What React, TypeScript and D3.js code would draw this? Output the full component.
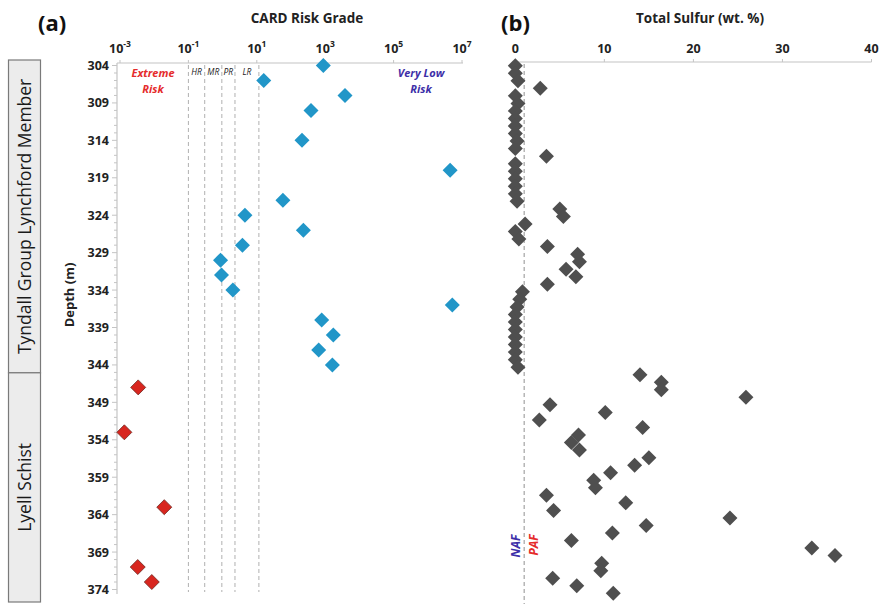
import * as d3 from "d3";
import { useEffect, useRef } from "react";

const WIDTH = 880;
const HEIGHT = 606;

// (a) CARD risk grade vs depth
const cardDepths = [
  304, 306, 308, 310, 314, 318, 322, 324, 326, 328, 330, 332, 334, 336, 338,
  340, 342, 344, 347, 353, 363, 371, 373,
];
const cardValues = [
  880, 16, 3800, 385, 210, 4.5e6, 58, 4.5, 230, 3.8, 0.87, 0.93, 2.0, 5.2e6,
  790, 1730, 645, 1620, 0.0034, 0.00134, 0.0197, 0.0033, 0.0085,
];
const riskBounds = [0.1, 0.3, 0.95, 2.3, 11.5];
const riskBandLabels = ["HR", "MR", "PR", "LR"];
const cardTickExps = [-3, -1, 1, 3, 5, 7];

// (b) total sulfur vs depth
const sulfurDepths = [
  304, 305, 306, 307, 308, 309, 310, 311, 312, 313, 314, 315, 316, 317, 318,
  319, 320, 321, 322, 323, 324, 325, 326, 327, 328, 329, 330, 331, 332, 333,
  334, 335, 336, 337, 338, 339, 340, 341, 342, 343, 344, 345, 346, 347, 348,
  349, 350, 351, 352, 353, 354, 355, 356, 357, 358, 359, 360, 361, 362, 363,
  364, 365, 366, 367, 368, 369, 370, 371, 372, 373, 374,
];
const sulfurValues = [
  0, 0, 0.3, 2.8, 0, 0.3, 0, 0, 0, 0, 0.2, 0, 3.5, 0, 0, 0, 0, 0, 0.2, 5.0,
  5.4, 1.1, 0, 0.4, 3.6, 7.0, 7.2, 5.7, 6.8, 3.6, 0.8, 0.5, 0.2, 0, 0, 0, 0,
  0, 0, 0, 0.3, 14.0, 16.4, 16.4, 25.9, 3.9, 10.1, 2.7, 14.3, 7.1, 6.3, 7.2,
  15.0, 13.4, 10.7, 8.8, 9.0, 3.5, 12.4, 4.3, 24.1, 14.7, 10.9, 6.3, 33.3,
  35.9, 9.7, 9.6, 4.2, 6.9, 11.0,
];
const sulfurTicks = [0, 10, 20, 30, 40];
const pafLimit = 1;

const depthTicks = [304, 309, 314, 319, 324, 329, 334, 339, 344, 349, 354, 359, 364, 369, 374];
const units = [
  { name: "Tyndall Group Lynchford Member", top: 304, bottom: 344.4 },
  { name: "Lyell Schist", top: 344.4, bottom: 374 },
];

const FONT = "'Open Sans', 'Liberation Sans', sans-serif";
const diamond = (r: number) => `M0,${-r}L${r},0L0,${r}L${-r},0Z`;

const App = () => {
  const svgRef = useRef<SVGSVGElement>(null);

  useEffect(() => {
    const svg = d3.select(svgRef.current);
    svg.selectAll("*").remove();
    svg.attr("font-family", FONT);

    // ---------- panel (a) ----------
    const x = d3.scaleLog().domain([1e-3, 1e7]).range([120, 462]);
    const y = d3.scaleLinear().domain([304, 374]).range([65.5, 589.5]);
    const axisX = 117;
    const topA = 63;

    // unit boxes on the far left
    const boxY = d3.scaleLinear().domain([304, 374]).range([60, 602]);
    units.forEach((u) => {
      const y0 = boxY(u.top);
      const y1 = boxY(u.bottom);
      svg.append("rect")
        .attr("x", 8.5).attr("y", y0).attr("width", 32).attr("height", y1 - y0)
        .attr("fill", "#ececec").attr("stroke", "#7a7a7a").attr("stroke-width", 1.2);
      svg.append("text")
        .attr("transform", `translate(31,${(y0 + y1) / 2}) rotate(-90)`)
        .attr("text-anchor", "middle")
        .attr("font-size", 17.5)
        .attr("fill", "#1a1a1a")
        .text(u.name);
    });

    // depth label
    svg.append("text")
      .attr("transform", `translate(74,295) rotate(-90)`)
      .attr("text-anchor", "middle")
      .attr("font-size", 13)
      .attr("font-weight", "bold")
      .attr("fill", "#222")
      .text("Depth (m)");

    // left y axis with 1 m minor ticks
    svg.append("line")
      .attr("x1", axisX).attr("x2", axisX).attr("y1", topA).attr("y2", 594)
      .attr("stroke", "#c4c4c4").attr("stroke-width", 1.2);
    d3.range(304, 375).forEach((d) => {
      svg.append("line")
        .attr("x1", axisX - (depthTicks.includes(d) ? 5 : 3)).attr("x2", axisX)
        .attr("y1", y(d)).attr("y2", y(d))
        .attr("stroke", "#c4c4c4");
    });
    svg.append("g")
      .selectAll("text")
      .data(depthTicks)
      .join("text")
      .attr("x", 109)
      .attr("y", (d) => y(d) + 4.5)
      .attr("text-anchor", "end")
      .attr("font-size", 12.5)
      .attr("font-weight", "bold")
      .attr("fill", "#222")
      .text((d) => d);

    // top log axis
    svg.append("line")
      .attr("x1", axisX).attr("x2", 463).attr("y1", topA).attr("y2", topA)
      .attr("stroke", "#c4c4c4").attr("stroke-width", 1.2);
    cardTickExps.forEach((e) => {
      const tx = x(Math.pow(10, e));
      svg.append("line")
        .attr("x1", tx).attr("x2", tx).attr("y1", topA - 3).attr("y2", topA)
        .attr("stroke", "#c4c4c4");
      const t = svg.append("text")
        .attr("x", tx)
        .attr("y", 53)
        .attr("text-anchor", "middle")
        .attr("font-size", 12.5)
        .attr("font-weight", "bold")
        .attr("fill", "#222");
      t.append("tspan").text("10");
      t.append("tspan").attr("dy", -6).attr("font-size", 8.5).text(String(e));
    });

    svg.append("text")
      .attr("x", 307).attr("y", 23)
      .attr("text-anchor", "middle")
      .attr("font-size", 13.5).attr("font-weight", "bold").attr("fill", "#222")
      .text("CARD Risk Grade");
    svg.append("text")
      .attr("x", 38).attr("y", 31)
      .attr("font-size", 22).attr("font-weight", "bold").attr("fill", "#111")
      .text("(a)");

    // risk class boundaries
    riskBounds.forEach((b) => {
      svg.append("line")
        .attr("x1", x(b)).attr("x2", x(b)).attr("y1", topA + 2).attr("y2", 592)
        .attr("stroke", "#b0b0b0").attr("stroke-dasharray", "4,3");
    });
    riskBandLabels.forEach((lab, i) => {
      svg.append("text")
        .attr("x", (x(riskBounds[i]) + x(riskBounds[i + 1])) / 2)
        .attr("y", 75)
        .attr("text-anchor", "middle")
        .attr("font-size", 8.5)
        .attr("font-style", "italic")
        .attr("fill", "#222")
        .text(lab);
    });
    [["Extreme", "Risk"]].forEach((lines) => {
      lines.forEach((l, i) => {
        svg.append("text")
          .attr("x", 153).attr("y", 77 + i * 16)
          .attr("text-anchor", "middle")
          .attr("font-size", 11).attr("font-style", "italic").attr("font-weight", "bold")
          .attr("fill", "#e52b2b").text(l);
      });
    });
    [["Very Low", "Risk"]].forEach((lines) => {
      lines.forEach((l, i) => {
        svg.append("text")
          .attr("x", 421).attr("y", 77 + i * 16)
          .attr("text-anchor", "middle")
          .attr("font-size", 11).attr("font-style", "italic").attr("font-weight", "bold")
          .attr("fill", "#3d2fa8").text(l);
      });
    });

    const cardData = cardDepths.map((d, i) => ({ depth: d, value: cardValues[i] }));
    svg.append("g")
      .selectAll("path")
      .data(cardData)
      .join("path")
      .attr("d", diamond(7.5))
      .attr("transform", (d) => `translate(${x(d.value)},${y(d.depth)})`)
      .attr("fill", (d) => (d.value < riskBounds[0] ? "#d8261f" : "#2196c8"))
      .attr("stroke", (d) => (d.value < riskBounds[0] ? "#6e2a22" : "none"))
      .attr("stroke-width", 0.8);

    // ---------- panel (b) ----------
    const xs = d3.scaleLinear().domain([0, 40]).range([515.3, 871.5]);
    const ys = d3.scaleLinear().domain([304, 374]).range([65.7, 593.3]);
    const topB = 62;

    svg.append("line")
      .attr("x1", xs(0)).attr("x2", xs(40)).attr("y1", topB).attr("y2", topB)
      .attr("stroke", "#c4c4c4").attr("stroke-width", 1.2);
    sulfurTicks.forEach((t) => {
      svg.append("line")
        .attr("x1", xs(t)).attr("x2", xs(t)).attr("y1", topB - 3).attr("y2", topB)
        .attr("stroke", "#c4c4c4");
      svg.append("text")
        .attr("x", xs(t)).attr("y", 53)
        .attr("text-anchor", "middle")
        .attr("font-size", 12.5).attr("font-weight", "bold").attr("fill", "#222")
        .text(t);
    });
    svg.append("text")
      .attr("x", 700).attr("y", 23)
      .attr("text-anchor", "middle")
      .attr("font-size", 13.5).attr("font-weight", "bold").attr("fill", "#222")
      .text("Total Sulfur (wt. %)");
    svg.append("text")
      .attr("x", 501).attr("y", 31)
      .attr("font-size", 22).attr("font-weight", "bold").attr("fill", "#111")
      .text("(b)");

    svg.append("line")
      .attr("x1", xs(pafLimit)).attr("x2", xs(pafLimit)).attr("y1", topB + 2).attr("y2", 604)
      .attr("stroke", "#b0b0b0").attr("stroke-width", 1.4).attr("stroke-dasharray", "4,3");
    svg.append("text")
      .attr("transform", `translate(${xs(pafLimit) - 4},546) rotate(-90)`)
      .attr("text-anchor", "middle")
      .attr("font-size", 12).attr("font-style", "italic").attr("font-weight", "bold")
      .attr("fill", "#3d2fa8").text("NAF");
    svg.append("text")
      .attr("transform", `translate(${xs(pafLimit) + 14},545) rotate(-90)`)
      .attr("text-anchor", "middle")
      .attr("font-size", 12).attr("font-style", "italic").attr("font-weight", "bold")
      .attr("fill", "#e52b2b").text("PAF");

    const sulfurData = sulfurDepths.map((d, i) => ({ depth: d, value: sulfurValues[i] }));
    svg.append("g")
      .selectAll("path")
      .data(sulfurData)
      .join("path")
      .attr("d", diamond(7.5))
      .attr("transform", (d) => `translate(${xs(d.value)},${ys(d.depth)})`)
      .attr("fill", "#4f4f4f");
  }, []);

  return (
    <svg
      ref={svgRef}
      width={WIDTH}
      height={HEIGHT}
      style={{ position: "absolute", left: 0, top: 0, background: "#fff" }}
    />
  );
};

export default App;
